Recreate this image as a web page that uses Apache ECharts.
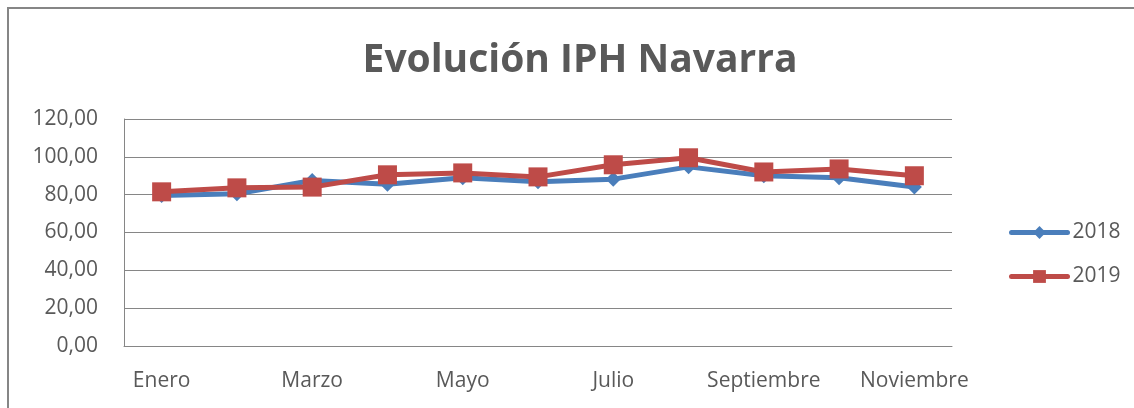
<!DOCTYPE html>
<html>
<head>
<meta charset="utf-8">
<script src="https://cdn.jsdelivr.net/npm/echarts@6/dist/echarts.min.js"></script>
<style>
  html, body { margin: 0; padding: 0; background: #fff; }
  #chart { width: 1134px; height: 408px; }
</style>
</head>
<body>
<div id="chart"></div>
<script>
var meses = ['Enero', 'Febrero', 'Marzo', 'Abril', 'Mayo', 'Junio', 'Julio', 'Agosto', 'Septiembre', 'Octubre', 'Noviembre'];
var iph2018 = [79.5, 80.5, 87.5, 85.5, 88.9, 86.8, 88.2, 94.7, 90.0, 88.9, 84.0];
var iph2019 = [81.5, 83.6, 84.0, 90.5, 91.5, 89.4, 95.8, 99.5, 92.0, 93.6, 90.0];

var myChart = echarts.init(document.getElementById('chart'));
var fuente = '"Open Sans", "Noto Sans", sans-serif';

option = {
    animation: false,
    title: {
        text: 'Evolución IPH Navarra',
        left: 575,
        textAlign: 'center',
        top: 36,
        textStyle: {
            fontFamily: fuente,
            fontSize: 39,
            fontWeight: 'bold',
            color: '#595959'
        }
    },
    graphic: [{
        type: 'rect',
        shape: { x: 8, y: 8, width: 1200, height: 500 },
        style: { fill: 'none', stroke: '#868686', lineWidth: 2 }
    }],
    legend: {
        orient: 'vertical',
        left: 1004,
        top: 217,
        itemWidth: 56,
        itemHeight: 16,
        itemGap: 23,
        lineStyle: { width: 5, cap: 'round' },
        textStyle: {
            fontFamily: fuente,
            fontSize: 21,
            color: '#595959'
        },
        data: ['2018', '2019']
    },
    grid: {
        left: 124,
        right: 182,
        top: 119,
        bottom: 62
    },
    xAxis: {
        type: 'category',
        data: meses,
        boundaryGap: true,
        axisLine: { lineStyle: { color: '#868686', width: 1 } },
        axisTick: { show: false },
        axisLabel: {
            interval: 1,
            margin: 25,
            fontFamily: fuente,
            fontSize: 21,
            color: '#595959'
        }
    },
    yAxis: {
        type: 'value',
        min: 0,
        max: 120,
        interval: 20,
        axisLine: { show: true, lineStyle: { color: '#868686', width: 1 } },
        axisTick: { show: false },
        splitLine: { lineStyle: { color: '#868686', width: 1 } },
        axisLabel: {
            margin: 26,
            fontFamily: fuente,
            fontSize: 21,
            color: '#595959',
            formatter: function (v) { return v.toFixed(2).replace('.', ','); }
        }
    },
    series: [
        {
            name: '2018',
            type: 'line',
            data: iph2018,
            symbol: 'diamond',
            symbolSize: 15,
            lineStyle: { color: '#4A7EBB', width: 5 },
            itemStyle: { color: '#4A7EBB' },
            z: 2
        },
        {
            name: '2019',
            type: 'line',
            data: iph2019,
            symbol: 'rect',
            symbolSize: 19,
            lineStyle: { color: '#BE4B48', width: 5 },
            itemStyle: { color: '#BE4B48' },
            z: 3
        }
    ]
};

myChart.setOption(option);
window.addEventListener('resize', function () { myChart.resize(); })
</script>
</body>
</html>
